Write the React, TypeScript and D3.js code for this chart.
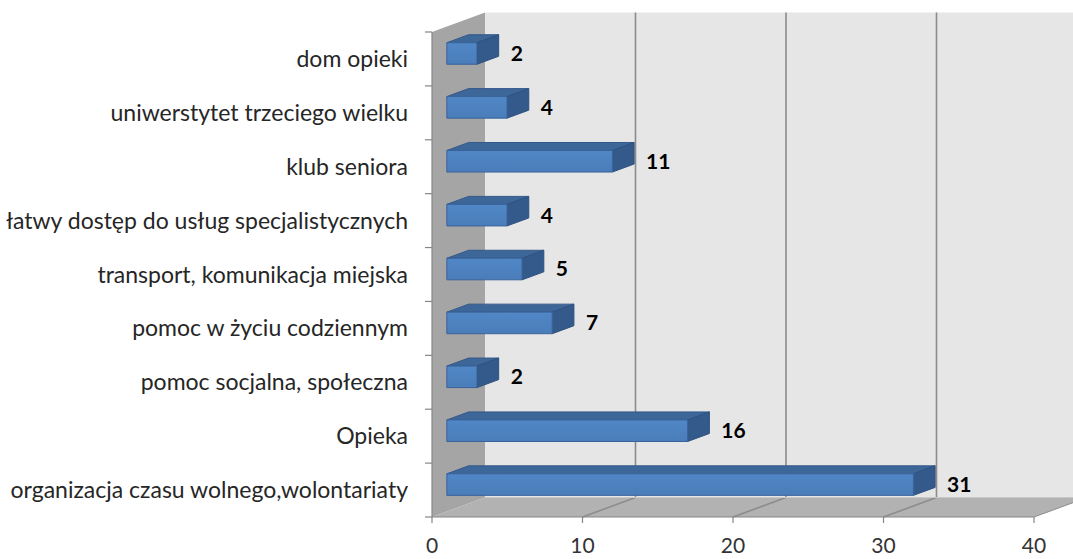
import React from "react";
import * as d3 from "d3";

// kategorie od góry do dołu
const categories = [
  "dom opieki",
  "uniwerstytet trzeciego wielku",
  "klub seniora",
  "łatwy dostęp do usług specjalistycznych",
  "transport, komunikacja miejska",
  "pomoc w życiu codziennym",
  "pomoc socjalna, społeczna",
  "Opieka",
  "organizacja czasu wolnego,wolontariaty",
];
const values = [2, 4, 11, 4, 5, 7, 2, 16, 31];
const xTicks = [0, 10, 20, 30, 40];

const W = 1073, H = 559;
const frontLeft = 432, frontRight = 1034;
const top = 32, bottom = 517;
const depth = { dx: 53, dy: -19.5 };
const barT0 = 0.28, barT1 = 0.69; // profondeur des barres

const font = "Lato, 'Open Sans', sans-serif";

export default function App() {
  const x = d3.scaleLinear().domain([0, 40]).range([frontLeft, frontRight]);
  const y = d3.scaleBand().domain(categories).range([top, bottom]).paddingInner(0.6).paddingOuter(0.3);
  const yBand = d3.scaleBand().domain(categories).range([top, bottom]);

  // point 3D -> 2D
  const P = (px: number, py: number, t: number) => [px + t * depth.dx, py + t * depth.dy];
  const poly = (pts: number[][]) => pts.map((p) => p.join(",")).join(" ");

  const x0 = x(0), x40 = x(40);
  const leftWall = [P(x0, top, 0), P(x0, top, 1), P(x0, bottom, 1), P(x0, bottom, 0)];
  const backWall = [P(x0, top, 1), P(x40, top, 1), P(x40, bottom, 1), P(x0, bottom, 1)];
  const floor = [P(x0, bottom, 0), P(x0, bottom, 1), P(x40, bottom, 1), P(x40, bottom, 0)];

  return (
    <svg width={W} height={H} style={{ position: "absolute", left: 0, top: 0, background: "#fff" }}>
      <defs>
        <linearGradient id="frontGrad" x1="0" y1="0" x2="0" y2="1">
          <stop offset="0%" stopColor="#5087c6" />
          <stop offset="100%" stopColor="#4a7dba" />
        </linearGradient>
      </defs>

      {/* murs */}
      <polygon points={poly(backWall)} fill="#e6e6e6" />
      <polygon points={poly(leftWall)} fill="#a5a5a5" />
      <polygon points={poly(floor)} fill="#b2b2b2" />

      {/* grille */}
      {xTicks.slice(1).map((t) => {
        const a = P(x(t), bottom, 0), b = P(x(t), bottom, 1), c = P(x(t), top, 1);
        return (
          <g key={t}>
            <polyline points={poly([a, b, c])} fill="none" stroke="#8c8c8c" strokeWidth={t === 40 ? 1 : 1.6} />
          </g>
        );
      })}
      <line x1={P(x0, bottom, 1)[0]} y1={P(x0, bottom, 1)[1]} x2={P(x40, bottom, 1)[0]} y2={P(x40, bottom, 1)[1]} stroke="#c8c8c8" strokeWidth={1} />

      {/* axes */}
      <line x1={x0} x2={x0} y1={top} y2={bottom} stroke="#868686" strokeWidth={1.2} />
      <line x1={x0} x2={x40} y1={bottom} y2={bottom} stroke="#868686" strokeWidth={1.2} />
      {categories.concat([""]).map((c, i) => {
        const yy = top + i * yBand.step();
        return <line key={"yt" + i} x1={x0 - 7} x2={x0} y1={yy} y2={yy} stroke="#868686" strokeWidth={1.2} />;
      })}
      {xTicks.map((t) => (
        <g key={"xt" + t}>
          <line x1={x(t)} x2={x(t)} y1={bottom} y2={bottom + 6} stroke="#868686" strokeWidth={1.2} />
          <text x={x(t)} y={bottom + 36} textAnchor="middle" fontFamily={font} fontSize={21} fill="#333">
            {t}
          </text>
        </g>
      ))}

      {/* étiquettes des catégories */}
      {categories.map((c) => (
        <text
          key={c}
          x={408}
          y={(yBand(c) as number) + yBand.bandwidth() / 2}
          dy="0.35em"
          textAnchor="end"
          fontFamily={font}
          fontSize={23}
          fill="#262626"
        >
          {c}
        </text>
      ))}

      {/* barres 3D */}
      {categories.map((c, i) => {
        const v = values[i];
        const y1 = y(c) as number, y2 = y1 + y.bandwidth();
        const xs = x(0), xe = x(v);
        const front = [P(xs, y1, barT0), P(xe, y1, barT0), P(xe, y2, barT0), P(xs, y2, barT0)];
        const topFace = [P(xs, y1, barT0), P(xs, y1, barT1), P(xe, y1, barT1), P(xe, y1, barT0)];
        const side = [P(xe, y1, barT0), P(xe, y1, barT1), P(xe, y2, barT1), P(xe, y2, barT0)];
        const lbl = P(xe, (y1 + y2) / 2, barT1);
        return (
          <g key={c}>
            <polygon points={poly(topFace)} fill="#3d6699" stroke="#35598a" strokeWidth={1} strokeLinejoin="round" />
            <polygon points={poly(side)} fill="#335a8a" stroke="#2e5180" strokeWidth={1} strokeLinejoin="round" />
            <polygon points={poly(front)} fill="url(#frontGrad)" stroke="#3a639a" strokeWidth={1} strokeLinejoin="round" />
            <text
              x={lbl[0] + 12}
              y={P(xe, (y1 + y2) / 2, barT0)[1]}
              dy="0.35em"
              fontFamily={font}
              fontWeight="bold"
              fontSize={21}
              fill="#000"
            >
              {v}
            </text>
          </g>
        );
      })}
    </svg>
  );
}
